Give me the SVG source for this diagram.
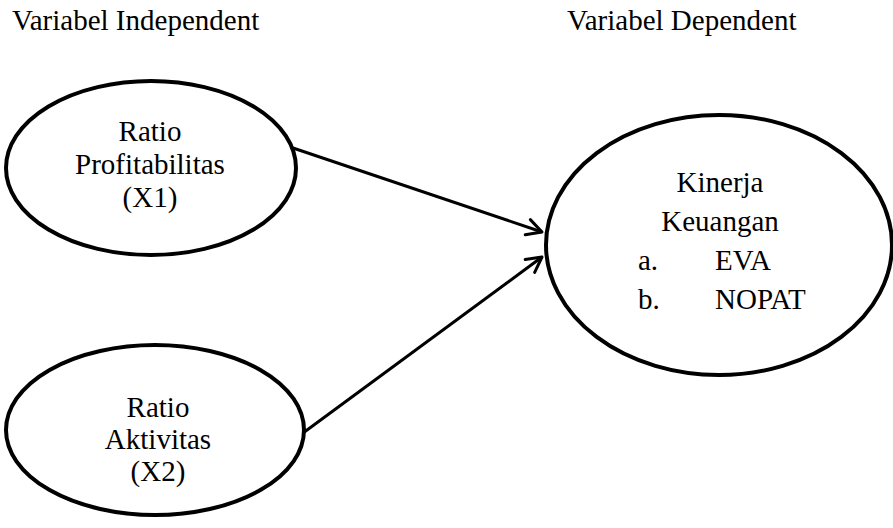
<svg xmlns="http://www.w3.org/2000/svg" width="893" height="528" viewBox="0 0 893 528">
<defs>
<style>
text{font-family:'Liberation Serif','Times New Roman','DejaVu Serif',serif;font-size:29px;fill:#000}
.c{text-anchor:middle}
.node ellipse{fill:#fff;stroke:#000;stroke-width:4}
.edge{stroke:#000;stroke-width:3;fill:none;marker-end:url(#arr)}
</style>
<marker id="arr" markerUnits="userSpaceOnUse" markerWidth="30" markerHeight="30" viewBox="-20 -15 30 30" refX="0" refY="0" orient="auto" overflow="visible">
<path d="M-15,-8 L0,0 L-15,8" fill="none" stroke="#000" stroke-width="3" stroke-linecap="round" stroke-linejoin="round"/>
</marker>
</defs>
<rect width="893" height="528" fill="#fff"/>
<g id="headers">
<text x="12" y="30">Variabel Independent</text>
<text x="567" y="30">Variabel Dependent</text>
</g>
<g id="connectors">
<line class="edge" x1="293" y1="148" x2="542" y2="232"/>
<line class="edge" x1="303" y1="433" x2="542" y2="257"/>
</g>
<g id="x1" class="node">
<ellipse cx="151" cy="168" rx="145" ry="87"/>
<text class="c" x="150" y="141">Ratio</text>
<text class="c" x="150" y="174">Profitabilitas</text>
<text class="c" x="150" y="207">(X1)</text>
</g>
<g id="x2" class="node">
<ellipse cx="155" cy="430" rx="149" ry="85"/>
<text class="c" x="158" y="417">Ratio</text>
<text class="c" x="158" y="449">Aktivitas</text>
<text class="c" x="158" y="481">(X2)</text>
</g>
<g id="y" class="node">
<ellipse cx="719" cy="245" rx="173" ry="130"/>
<text class="c" x="720" y="192">Kinerja</text>
<text class="c" x="720" y="231">Keuangan</text>
<text x="638" y="270">a.</text>
<text x="715" y="270">EVA</text>
<text x="638" y="309">b.</text>
<text x="715" y="309">NOPAT</text>
</g>
</svg>
